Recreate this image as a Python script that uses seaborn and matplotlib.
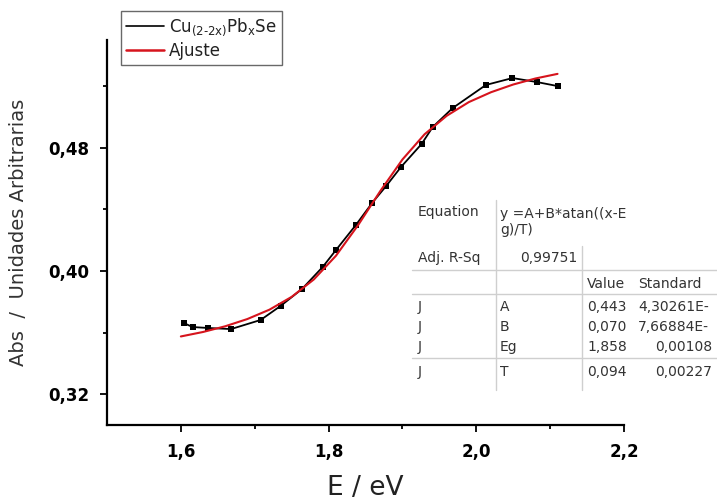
import matplotlib
matplotlib.use("Agg")
import matplotlib.pyplot as plt
from matplotlib.lines import Line2D
from matplotlib.ticker import FixedLocator
import seaborn as sns
import pandas as pd

# ---------------- data ----------------
energy_eV = [1.604, 1.616, 1.637, 1.668, 1.708, 1.735, 1.764, 1.792, 1.810, 1.837,
             1.859, 1.878, 1.898, 1.926, 1.941, 1.968, 2.013, 2.049, 2.082, 2.110]
absorbance = [0.3662, 0.3636, 0.3630, 0.3623, 0.3682, 0.3773, 0.3883, 0.4026, 0.4136, 0.4299,
              0.4442, 0.4552, 0.4675, 0.4825, 0.4935, 0.5058, 0.5208, 0.5253, 0.5227, 0.5201]

fit_energy = [1.60, 1.63, 1.66, 1.69, 1.72, 1.75, 1.78, 1.81, 1.84, 1.87,
              1.90, 1.93, 1.96, 1.99, 2.02, 2.05, 2.08, 2.11]
fit_abs = [0.3575, 0.3604, 0.3641, 0.3688, 0.3749, 0.3832, 0.3945, 0.4099, 0.4298, 0.4519,
           0.4724, 0.4888, 0.5008, 0.5097, 0.5161, 0.5211, 0.5250, 0.5280]

x_ticks = [1.6, 1.8, 2.0, 2.2]
x_tick_labels = ["1,6", "1,8", "2,0", "2,2"]
x_minor = [1.7, 1.9, 2.1]
y_ticks = [0.32, 0.40, 0.48]
y_tick_labels = ["0,32", "0,40", "0,48"]
y_minor = [0.36, 0.44, 0.52]

series_labels = [r"Cu$_{(2\text{-}2x)}$Pb$_x$Se", "Ajuste"]

table_rows = [
    ["Adj. R-Sq", "0,99751", "", ""],
    ["", "", "Value", "Standard"],
    ["J", "A", "0,443", "4,30261E-"],
    ["J", "B", "0,070", "7,66884E-"],
    ["J", "Eg", "1,858", "0,00108"],
    ["J", "T", "0,094", "0,00227"],
]
equation_text = "y =A+B*atan((x-E\ng)/T)"

# ---------------- plot ----------------
sns.set_style("ticks")
plt.rcParams["font.family"] = ["DejaVu Sans"]
plt.rcParams["mathtext.default"] = "regular"

fig = plt.figure(figsize=(7.17, 5.0), dpi=100)
ax = fig.add_axes([107 / 717, 1 - 425 / 500, (624 - 107) / 717, (425 - 40) / 500])

df_data = pd.DataFrame({"E": energy_eV, "A": absorbance})
df_fit = pd.DataFrame({"E": fit_energy, "A": fit_abs})

sns.lineplot(data=df_data, x="E", y="A", ax=ax, color="black", lw=1.3,
             marker="s", markersize=4.5, markeredgewidth=0, sort=False, zorder=2)
sns.lineplot(data=df_fit, x="E", y="A", ax=ax, color="#d6141d", lw=1.5,
             sort=False, zorder=3)

ax.set_xlim(1.5, 2.2)
ax.set_ylim(0.30, 0.55)
ax.set_xticks(x_ticks)
ax.set_xticklabels(x_tick_labels, fontsize=12, fontweight="bold", color="black")
ax.xaxis.set_minor_locator(FixedLocator(x_minor))
ax.set_yticks(y_ticks)
ax.set_yticklabels(y_tick_labels, fontsize=12, fontweight="bold", color="black")
ax.yaxis.set_minor_locator(FixedLocator(y_minor))
ax.tick_params(which="major", direction="out", length=5, width=1.3, pad=8, color="black")
ax.tick_params(which="minor", direction="out", length=3, width=1.3, color="black")
for s in ["top", "right"]:
    ax.spines[s].set_visible(False)
for s in ["left", "bottom"]:
    ax.spines[s].set_linewidth(1.6)
    ax.spines[s].set_color("black")

ax.set_xlabel("E / eV", fontsize=19, color="#222222", labelpad=10)
ax.set_ylabel("Abs  /  Unidades Arbitrarias", fontsize=14, color="#333333")
ax.yaxis.set_label_coords(-0.152, 0.5)

handles = [Line2D([], [], color="black", lw=1.2), Line2D([], [], color="#d6141d", lw=1.8)]
leg = fig.legend(handles, series_labels, loc="upper left",
                 bbox_to_anchor=(121 / 717, 1 - 11 / 500), fontsize=12,
                 frameon=True, fancybox=False, edgecolor="#444444", borderpad=0.3,
                 handlelength=2.3, handletextpad=0.3, labelspacing=0.25, borderaxespad=0)
leg.get_frame().set_linewidth(1.0)
for t in leg.get_texts():
    t.set_color("#222222")

# ---------------- fit table (overlay in pixel coordinates) ----------------
ov = fig.add_axes([0, 0, 1, 1], zorder=5)
ov.set_xlim(0, 717)
ov.set_ylim(500, 0)
ov.axis("off")
ov.patch.set_alpha(0)

tc = "#333333"
lc = "#cfcfcf"
fs = 10
ov.text(418, 212, "Equation", fontsize=fs, color=tc, va="center", ha="left")
ov.text(500, 222, equation_text, fontsize=fs, color=tc, va="center", ha="left",
        linespacing=1.2)
row_y = [258, 284, 307, 327, 347, 372]
for y, row in zip(row_y, table_rows):
    c0, c1, c2, c3 = row
    ov.text(418, y, c0, fontsize=fs, color=tc, va="center", ha="left")
    if c0 == "Adj. R-Sq":
        ov.text(577, y, c1, fontsize=fs, color=tc, va="center", ha="right")
    else:
        ov.text(500, y, c1, fontsize=fs, color=tc, va="center", ha="left")
    ov.text(587, y, c2, fontsize=fs, color=tc, va="center", ha="left")
    if c3.endswith("-") or c3 == "Standard":
        ov.text(638, y, c3, fontsize=fs, color=tc, va="center", ha="left")
    else:
        ov.text(712, y, c3, fontsize=fs, color=tc, va="center", ha="right")

for y in [270, 294, 358]:
    ov.plot([412, 717], [y, y], color=lc, lw=1.0)
ov.plot([496, 496], [200, 390], color=lc, lw=1.0)
ov.plot([582, 582], [246, 390], color=lc, lw=1.0)

fig.savefig("out.png", dpi=100)
